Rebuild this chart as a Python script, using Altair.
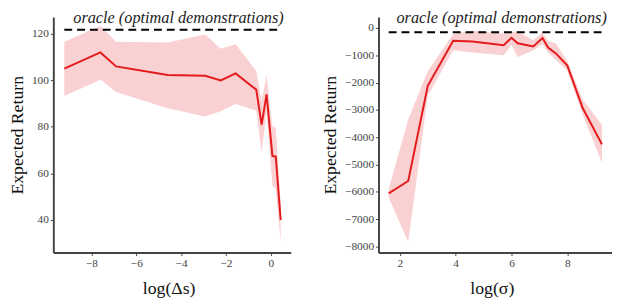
import altair as alt
import pandas as pd

# ---- left panel: log(Δs) ----
ds_x = [-9.21, -7.6, -6.9, -4.6, -2.93, -2.23, -1.57, -0.65, -0.41, -0.19, 0.07, 0.22, 0.44]
ds_mean = [105, 112, 106, 102.3, 102, 100, 103, 96, 81, 94, 67.5, 67.2, 40]
ds_upper = [116.6, 123.4, 116.6, 116.3, 119.7, 113.6, 115.5, 104, 91, 102.3, 80.3, 79.6, 47]
ds_lower = [93.3, 100.3, 95, 88, 84.5, 86.7, 89.8, 87, 69, 86.7, 54.8, 53.3, 30.6]
ds_oracle = 121.7
ds_ticks = [-8, -6, -4, -2, 0]
ds_yticks = [40, 60, 80, 100, 120]

# ---- right panel: log(σ) ----
sig_x = [1.6, 2.3, 3.0, 3.91, 4.6, 5.72, 6.0, 6.22, 6.78, 7.11, 7.31, 7.6, 8.0, 8.55, 9.24]
sig_mean = [-6050, -5600, -2120, -470, -500, -630, -360, -560, -680, -370, -720, -940, -1380, -2930, -4260]
sig_upper = [-5880, -3350, -1580, -220, -100, -200, -150, -130, -450, -160, -480, -580, -1220, -2620, -3540]
sig_lower = [-6200, -7830, -2480, -820, -900, -1000, -620, -1060, -830, -600, -900, -1180, -1560, -3180, -4930]
sig_oracle = -157
sig_ticks = [2, 4, 6, 8]
sig_yticks = [0, -1000, -2000, -3000, -4000, -5000, -6000, -7000, -8000]

TITLE = "oracle (optimal demonstrations)"
YTITLE = "Expected Return"
RED = "#e41a1c"
FONT = "Liberation Serif"


def panel(xs, mean, up, lo, oracle, xdom, ydom, xticks, yticks, xtitle, w, h, ypad):
    df = pd.DataFrame({"x": xs, "m": mean, "u": up, "l": lo})
    odf = pd.DataFrame({"x0": [min(xs)], "x1": [max(xs)], "y": [oracle]})
    tdf = pd.DataFrame({"t": [TITLE]})
    xsc = alt.Scale(domain=xdom, nice=False, zero=False)
    ysc = alt.Scale(domain=ydom, nice=False, zero=False)
    common = dict(grid=False, format="d", labelFont=FONT, labelFontSize=11.5,
                  labelColor="#444", labelOverlap=False, labelPadding=2,
                  titleFont=FONT, titleFontSize=18, titleFontWeight="normal",
                  titleColor="#111", domainColor="#444", domainWidth=2,
                  tickColor="#444", tickSize=3, tickWidth=1)
    xax = alt.Axis(values=xticks, title=xtitle, titlePadding=11, titleX=w / 2 - 3.5, **common)
    yax = alt.Axis(values=yticks, title=YTITLE, titlePadding=ypad, **common)
    band = alt.Chart(df).mark_area(color=RED, opacity=0.2).encode(
        x=alt.X("x:Q", scale=xsc, axis=xax),
        y=alt.Y("u:Q", scale=ysc, axis=yax),
        y2="l:Q",
    )
    line = alt.Chart(df).mark_line(color=RED, strokeWidth=2).encode(
        x=alt.X("x:Q", scale=xsc, axis=xax),
        y=alt.Y("m:Q", scale=ysc, axis=yax),
    )
    orc = alt.Chart(odf).mark_rule(color="black", strokeWidth=2, strokeDash=[8, 5]).encode(
        x=alt.X("x0:Q", scale=xsc, axis=xax),
        x2="x1:Q",
        y=alt.Y("y:Q", scale=ysc, axis=yax),
    )
    ttl = alt.Chart(tdf).mark_text(font=FONT, fontStyle="italic", fontSize=16.5,
                                   baseline="alphabetic", align="center", color="#222").encode(
        x=alt.value(w / 2 + 6.5), y=alt.value(6.5), text="t:N"
    )
    return alt.layer(band, line, orc, ttl).properties(width=w, height=h)


left = panel(ds_x, ds_mean, ds_upper, ds_lower, ds_oracle, [-9.7, 0.89], [26, 127.2],
             ds_ticks, ds_yticks, "log(Δs)", 241, 239, 5)
right = panel(sig_x, sig_mean, sig_upper, sig_lower, sig_oracle, [1.234, 9.6], [-8217, 398],
              sig_ticks, sig_yticks, "log(σ)", 237, 239, 5)

chart = alt.hconcat(left, right, spacing=31).properties(
    padding={"top": 0, "left": 0, "right": 0, "bottom": 0}
).configure_view(stroke=None)

chart.save("out.html", embed_options={"renderer": "svg", "actions": False})
